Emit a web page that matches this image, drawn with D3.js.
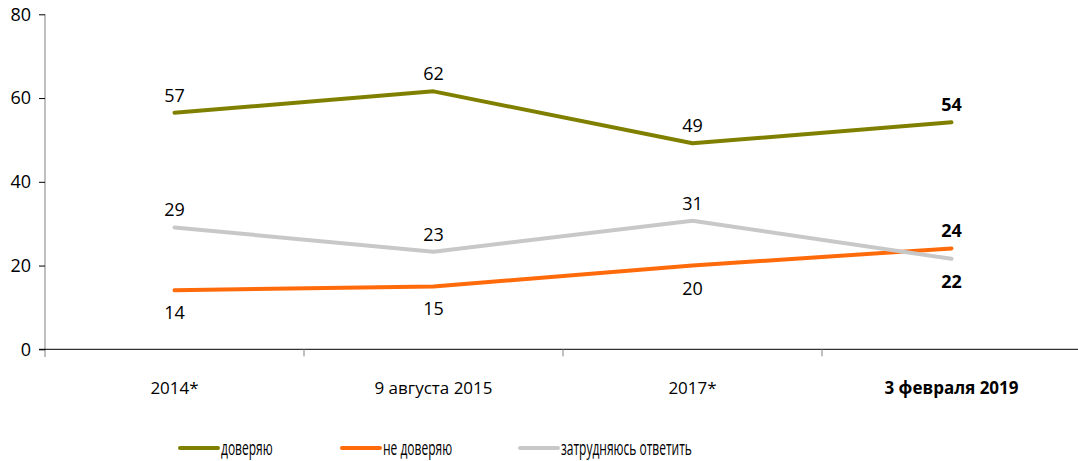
<!DOCTYPE html>
<html>
<head>
<meta charset="utf-8">
<script src="https://cdn.jsdelivr.net/npm/d3@7"></script>
<style>
    body { margin: 0; background: #fff; }
    svg { display: block; }
</style>
</head>
<body>
<div id="chart"></div>
<script>
// data
const categories = ['2014*', '9 августа 2015', '2017*', '3 февраля 2019'];
const trust = [56.5, 61.6, 49.2, 54.2];
const distrust = [14.1, 15.0, 20.0, 24.1];
const undecided = [29.1, 23.3, 30.7, 21.6];
const seriesNames = ['доверяю', 'не доверяю', 'затрудняюсь ответить'];
const yTicks = [0, 20, 40, 60, 80];

const color = ['#808000', '#ff6a0a', '#c8c8c8'];
// label placement per point: -1 above, 1 below
const labelSide = [
    [-1, -1, -1, -1],
    [1, 1, 1, -1],
    [-1, -1, -1, 1]
];

const width = 1078, height = 461;
const margin = {top: 14, right: 0, bottom: 112, left: 45};

const svg = d3.select('#chart')
    .append('svg')
    .attr('width', width)
    .attr('height', height);

const xScale = d3.scaleBand()
    .domain(categories)
    .range([margin.left, 1081])
    .padding(0);

const yScale = d3.scaleLinear()
    .domain([0, 80])
    .range([349.3, 14.3]);

const mainFont = '"Open Sans", "DejaVu Sans", sans-serif';

// y axis
const yAxis = svg.append('g')
    .attr('transform', `translate(${margin.left},0)`)
    .call(d3.axisLeft(yScale).tickValues(yTicks).tickSize(6).tickPadding(8));
yAxis.select('.domain')
    .attr('d', `M0,${yScale(80)}V357`)
    .attr('stroke', '#808080');
yAxis.selectAll('.tick line').attr('stroke', '#000');
yAxis.selectAll('.tick text')
    .style('font-family', mainFont)
    .style('font-size', '18px')
    .attr('fill', '#000');

// x axis
const xAxis = svg.append('g')
    .attr('transform', `translate(0,${yScale(0)})`);
xAxis.append('line')
    .attr('x1', margin.left - 6)
    .attr('x2', width)
    .attr('stroke', '#000')
    .attr('stroke-width', 1);
xAxis.selectAll('.sep')
    .data(categories.slice(1))
    .enter()
    .append('line')
    .attr('class', 'sep')
    .attr('x1', d => xScale(d))
    .attr('x2', d => xScale(d))
    .attr('y1', 0)
    .attr('y2', 7)
    .attr('stroke', '#808080');
xAxis.selectAll('.cat')
    .data(categories)
    .enter()
    .append('text')
    .attr('class', 'cat')
    .attr('x', d => xScale(d) + xScale.bandwidth() / 2)
    .attr('y', 45)
    .attr('text-anchor', 'middle')
    .style('font-family', mainFont)
    .style('font-size', '17px')
    .style('font-weight', (d, i) => i === categories.length - 1 ? 'bold' : 'normal')
    .text(d => d);

// lines
const allSeries = [trust, distrust, undecided];
const cx = i => xScale(categories[i]) + xScale.bandwidth() / 2;
const line = d3.line()
    .x((d, i) => cx(i))
    .y(d => yScale(d));

const grp = svg.append('g');
grp.selectAll('.series')
    .data(allSeries)
    .enter()
    .append('path')
    .attr('class', 'series')
    .attr('fill', 'none')
    .attr('stroke', (d, i) => color[i])
    .attr('stroke-width', 4)
    .attr('stroke-linecap', 'round')
    .attr('stroke-linejoin', 'round')
    .attr('d', d => line(d));

// data labels
allSeries.forEach((vals, s) => {
    grp.selectAll('.lbl' + s)
        .data(vals)
        .enter()
        .append('text')
        .attr('x', (d, i) => cx(i))
        .attr('y', (d, i) => yScale(d) + (labelSide[s][i] < 0 ? -11 : 29))
        .attr('text-anchor', 'middle')
        .style('font-family', mainFont)
        .style('font-size', '18px')
        .style('font-weight', (d, i) => i === vals.length - 1 ? 'bold' : 'normal')
        .text(d => Math.round(d));
});

// legend
const legendX = [180, 342, 520];
const legend = svg.append('g')
    .attr('transform', 'translate(0,448)');
const items = legend.selectAll('.item')
    .data(seriesNames)
    .enter()
    .append('g')
    .attr('transform', (d, i) => `translate(${legendX[i]},0)`);
items.append('line')
    .attr('x1', 0)
    .attr('x2', 38)
    .attr('stroke', (d, i) => color[i])
    .attr('stroke-width', 4)
    .attr('stroke-linecap', 'round');
// condensed look: squeeze text horizontally
items.append('text')
    .attr('transform', 'translate(41,7) scale(0.6,1)')
    .style('font-family', mainFont)
    .style('font-size', '20px')
    .text(d => d);
</script>
</body>
</html>
